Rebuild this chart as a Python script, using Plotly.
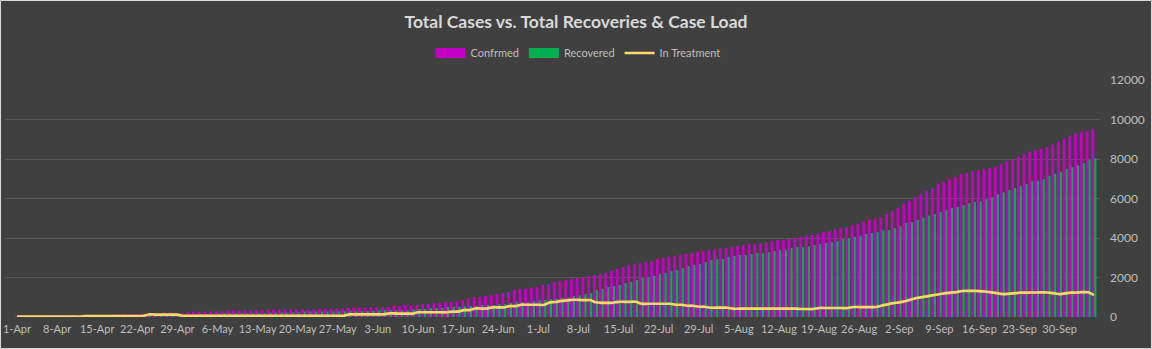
import pandas as pd
import plotly.graph_objects as go

# ---------------- data ----------------
start_date = "2020-04-01"
n_days = 189
last_tick_date = "2020-09-30"

confirmed = [
    30, 35, 40, 45, 50, 55, 60, 65, 70, 75,
    80, 85, 90, 95, 100, 105, 110, 115, 120,
    150, 150, 155, 160, 160, 165, 170,
    220, 220, 200, 210, 240, 260,
    270, 270, 275, 275, 280,
    320, 320, 320, 320, 325, 325, 325,
    370, 370, 370, 375, 375, 375, 380, 380, 380,
    420, 420, 420, 425, 430,
    470, 470, 475, 475, 480, 480,
    505, 510, 560,
    560, 600, 600, 600, 660, 660, 710, 710, 760, 760,
    790, 860, 960, 1010, 1010, 1060, 1110, 1160, 1210, 1265,
    1370, 1420, 1420, 1470, 1520, 1620, 1670, 1770, 1820, 1870,
    1920, 1970, 2020, 2070, 2130,
    2170, 2220, 2330, 2430, 2530, 2630, 2680, 2730, 2780, 2830,
    2930, 2990, 3040, 3090, 3140, 3190, 3240, 3290, 3340, 3390,
    3440, 3490, 3490, 3540, 3590, 3640, 3690, 3690, 3740, 3790,
    3840, 3900, 3900, 3950, 4000,
    4050, 4100, 4150, 4200, 4300, 4350, 4450, 4500, 4550, 4650,
    4700, 4810, 4910, 4960, 5050, 5210, 5360, 5520, 5720, 5870,
    6070, 6215, 6375, 6520, 6730, 6830, 6975, 7080, 7240, 7290,
    7390, 7430, 7480, 7540, 7590, 7740, 7890, 7980, 8100, 8250,
    8380, 8450, 8520, 8600, 8750, 8860, 9010, 9170, 9280, 9360,
    9410, 9510,
]

recovered = [
    0, 0, 0, 0, 0, 0, 0, 0, 0, 0, 0, 0,
    10, 10, 15, 15, 20, 20, 25, 25, 30, 30, 35, 40, 40, 45, 50,
    85, 90, 100, 110, 130,
    150, 150, 155,
    180, 185, 185, 185, 185, 185, 190, 190, 190,
    220, 220, 220, 220, 225, 225,
    280, 280, 280, 280, 280, 285, 285, 285,
    300, 300, 300, 300, 305,
    350, 350, 350, 350,
    350, 350, 390, 400, 400, 460, 460, 460, 510, 510,
    510, 560, 560, 560, 610, 610, 610, 660, 660, 710,
    760, 760, 760, 810, 860, 860, 910, 910, 980, 1000,
    1060, 1100, 1160, 1210, 1360,
    1420, 1520, 1570, 1620, 1720, 1770, 1870, 1980, 2030, 2080,
    2180, 2230, 2330, 2380, 2480, 2580, 2630, 2680, 2780, 2880,
    2940, 2940, 3040, 3090, 3140, 3140, 3190, 3240, 3240, 3290,
    3340, 3390, 3390, 3490, 3540,
    3540, 3590, 3640, 3690, 3740, 3790, 3840, 3950, 4000, 4050,
    4100, 4200, 4250, 4300, 4400, 4400, 4500, 4600, 4760, 4810,
    4910, 5030, 5130, 5210, 5310, 5410, 5520, 5570, 5670, 5770,
    5820, 5850, 5970, 6070, 6210, 6310, 6430, 6530, 6630, 6730,
    6880, 6900, 6980, 7130, 7250, 7350, 7500, 7590, 7690, 7790,
    7940, 8040,
]

in_treatment = [
    15, 15, 15, 15, 15, 15, 15, 15, 15, 15, 15, 15,
    50, 50, 50, 50, 50, 50, 50, 50, 50, 50, 50,
    125, 125, 125, 125, 125, 120,
    60, 60, 60, 60, 60, 60, 60, 60, 60, 60,
    60, 60, 60, 60, 60, 60, 60, 60, 60, 60,
    60, 60, 60, 60, 60, 60, 60, 60, 60,
    135, 135, 135, 135, 135, 135, 135,
    180, 180,
    170, 170, 170,
    240, 240, 240, 240, 240, 240,
    270, 270,
    350, 350,
    430, 430, 430,
    490, 490, 490,
    550, 550,
    620, 620, 620, 620,
    610, 740, 760, 820, 840, 870, 870, 850, 860, 750,
    720, 720, 720,
    770, 770, 770, 770,
    670, 670, 670, 670, 670, 670,
    620, 620,
    570, 570,
    520, 520,
    470, 470, 470, 470,
    420, 420, 420, 420, 420, 420, 420, 420, 420, 420, 420, 420,
    405, 405, 405,
    455, 455, 455, 455, 455, 455,
    505, 505, 505, 505, 505,
    580, 640, 700, 740, 800, 880,
    960, 1010, 1060,
    1110, 1150,
    1210, 1230, 1260,
    1315, 1320, 1320, 1315,
    1290, 1250, 1210,
    1165, 1170, 1200,
    1230, 1230, 1240,
    1240, 1250, 1240, 1200,
    1160,
    1200, 1230, 1240,
    1260, 1250,
    1110,
]

series_names = ["Confrmed", "Recovered", "In Treatment"]
chart_title = "Total Cases vs. Total Recoveries & Case Load"

dates = pd.date_range(start_date, periods=n_days, freq="D")
tick_dates = [d for d in dates[::7] if d <= pd.Timestamp(last_tick_date)]
tick_text = [f"{d.day}-{d.strftime('%b')}" for d in tick_dates]

# ---------------- style ----------------
BG = "#404040"
GRID = "#595959"
TXT = "#bfbfbf"
MAGENTA = "#c400c4"
GREEN = "#00b050"
YELLOW = "#ffd966"
FONT = "Lato, Carlito, Calibri, sans-serif"

W, H = 1152, 349
PL, PR, PT, PB = 5, 1100, 80, 317  # plot area in px
DAY_MS = 86400000

fig = go.Figure()
fig.add_trace(go.Bar(x=dates, y=confirmed, name=series_names[0], showlegend=False,
                     width=0.5 * DAY_MS, offset=-0.46 * DAY_MS,
                     marker=dict(color=MAGENTA, line=dict(width=0))))
fig.add_trace(go.Bar(x=dates, y=recovered, name=series_names[1], showlegend=False,
                     width=0.38 * DAY_MS, offset=0.04 * DAY_MS,
                     marker=dict(color=GREEN, line=dict(width=0))))
fig.add_trace(go.Scatter(x=dates, y=in_treatment, name=series_names[2], showlegend=False,
                         mode="lines", line=dict(color=YELLOW, width=2.7, shape="spline", smoothing=0.6)))

# legend entries (wide swatches like the original)
for nm, col, lw in [(series_names[0], MAGENTA, 10), (series_names[1], GREEN, 10), (series_names[2], YELLOW, 2.6)]:
    fig.add_trace(go.Scatter(x=[None], y=[None], name=nm, mode="lines",
                             line=dict(color=col, width=lw), showlegend=True, hoverinfo="skip"))

px_per_day = 5.73
x0 = dates[0] - pd.Timedelta(days=12 / px_per_day)
x1 = dates[-1] + pd.Timedelta(days=6 / px_per_day)

def px_x(p):
    return (p - PL) / (PR - PL)

def px_y(p):
    return (PB - p) / (PB - PT)

fig.update_layout(
    width=W, height=H,
    margin=dict(l=PL, r=W - PR, t=PT, b=H - PB, autoexpand=False),
    paper_bgcolor=BG, plot_bgcolor=BG,
    font=dict(family=FONT, color=TXT, size=12),
    barmode="overlay",
    title=dict(text="<b>" + chart_title + "</b>", x=0.5, xanchor="center",
               y=1 - 22 / H, yanchor="middle",
               font=dict(family=FONT, size=17.5, color="#d9d9d9")),
    legend=dict(orientation="h", x=px_x(578), xanchor="center", y=px_y(53), yanchor="middle",
                font=dict(family=FONT, size=11, color=TXT), bgcolor="rgba(0,0,0,0)",
                tracegroupgap=0),
    xaxis=dict(type="date", range=[x0, x1], tickmode="array",
               tickvals=tick_dates, ticktext=tick_text, tickangle=0, automargin=False,
               showgrid=False, zeroline=False,
               showline=False, ticks="", tickfont=dict(size=11, color=TXT),
               ticklabelstandoff=4, fixedrange=True),
    yaxis=dict(side="right", range=[0, 12000], dtick=2000, showgrid=True, automargin=False,
               gridcolor=GRID, gridwidth=1, zeroline=False, showline=False,
               ticks="", tickfont=dict(size=12, color=TXT), ticklabelstandoff=9,
               tickformat="d"),
    shapes=[dict(type="rect", xref="paper", yref="paper",
                 x0=px_x(0.5), x1=px_x(W - 0.5), y0=px_y(H - 0.5), y1=px_y(0.5),
                 line=dict(color="#d9d9d9", width=1), layer="above")],
)

fig.write_html("out.html")
